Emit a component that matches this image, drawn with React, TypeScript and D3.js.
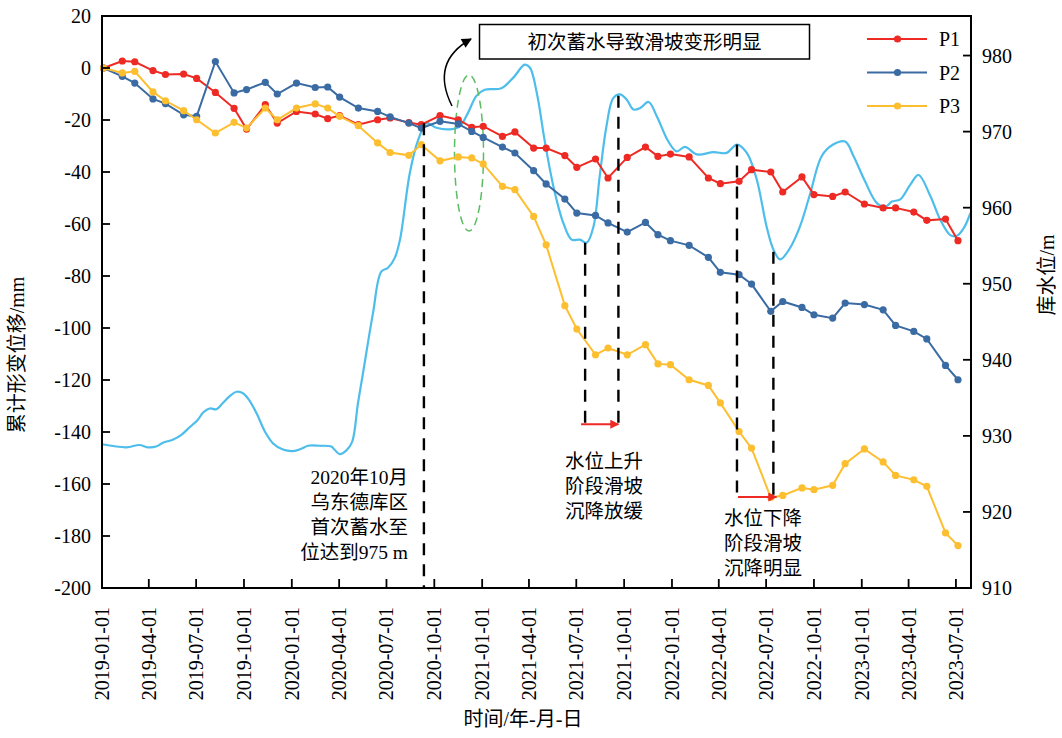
import React from 'react';
import * as d3 from 'd3';

// ---------- data ----------
const sampleDates = [
  "2019-01-04","2019-02-09","2019-03-05","2019-04-09","2019-05-03","2019-06-07","2019-07-02","2019-08-07","2019-09-12","2019-10-06","2019-11-11","2019-12-04",
  "2020-01-10","2020-02-15","2020-03-10","2020-04-02","2020-05-08","2020-06-14","2020-07-08","2020-08-13","2020-09-06","2020-10-12","2020-11-16","2020-12-12",
  "2021-01-03","2021-02-09","2021-03-05","2021-04-10","2021-05-04","2021-06-09","2021-07-02","2021-08-07","2021-08-31","2021-10-07","2021-11-11","2021-12-05","2021-12-29",
  "2022-02-03","2022-03-12","2022-04-04","2022-05-10","2022-06-03","2022-07-10","2022-08-02","2022-09-08","2022-10-01","2022-11-06","2022-11-30",
  "2023-01-06","2023-02-11","2023-03-07","2023-04-11","2023-05-06","2023-06-11","2023-07-05"
];

const p1 = [
  0, 2.7, 2.4, -1.0, -2.5, -2.3, -4.0, -9.4, -15.5, -23.5,
  -14.1, -21.2, -16.7, -17.7, -19.5, -18.3, -21.8, -19.9, -19.2, -21.0,
  -21.8, -18.3, -19.9, -22.8, -22.4, -26.3, -24.6, -30.8, -30.8, -33.7,
  -38.2, -35.0, -42.3, -34.4, -30.4, -34.0, -33.1, -34.2, -42.3, -44.5,
  -43.6, -39.1, -40.0, -47.7, -41.9, -48.7, -49.4, -47.7, -52.3, -53.8,
  -53.8, -55.4, -58.6, -58.1, -66.4
];

const p2 = [
  0, -3.2, -5.8, -11.9, -13.7, -18.0, -18.6, 2.5, -9.6, -8.3,
  -5.5, -10.0, -5.8, -7.5, -7.3, -11.2, -15.4, -16.7, -18.8, -21.2,
  -23.1, -20.5, -21.5, -24.4, -26.7, -30.4, -32.7, -39.5, -44.6, -50.4,
  -55.8, -56.7, -59.6, -63.1, -59.4, -64.1, -66.4, -68.2, -72.8, -78.6,
  -79.5, -83.1, -93.6, -89.8, -92.1, -94.9, -96.2, -90.4, -91.0, -93.0,
  -99.0, -101.3, -104.2, -114.4, -119.9
];

const p3 = [
  0, -1.9, -1.3, -9.2, -12.6, -16.4, -19.9, -25.0, -20.9, -23.1,
  -15.4, -19.9, -15.4, -13.8, -15.4, -18.6, -22.2, -28.8, -32.5, -33.6,
  -29.5, -35.7, -34.2, -34.6, -36.9, -45.5, -46.8, -57.1, -68.0, -91.4,
  -100.4, -110.3, -107.7, -110.3, -106.4, -113.8, -114.1, -119.9, -122.1, -128.8,
  -139.8, -146.2, -165.2, -164.4, -161.5, -162.2, -160.5, -152.2, -146.5, -151.5,
  -156.7, -158.4, -160.9, -178.8, -183.7
];

const waterDates = [
  "2019-01-01","2019-02-17","2019-03-14","2019-03-30","2019-04-15","2019-04-28","2019-05-17","2019-06-02","2019-06-18","2019-07-04",
  "2019-07-15","2019-07-27","2019-08-09","2019-08-21","2019-09-03","2019-09-17","2019-09-29","2019-10-10","2019-10-25","2019-11-10",
  "2019-11-26","2019-12-15","2020-01-03","2020-01-19","2020-02-01","2020-02-24","2020-03-17","2020-03-23","2020-04-02","2020-04-15",
  "2020-04-26","2020-05-07","2020-05-17","2020-06-05","2020-06-21","2020-07-04","2020-07-17","2020-07-27","2020-08-15","2020-08-31",
  "2020-09-16","2020-10-05","2020-10-31","2020-11-19","2020-12-05","2020-12-21","2021-01-06","2021-02-07","2021-03-02","2021-03-24",
  "2021-04-03","2021-04-16","2021-05-02","2021-05-18","2021-06-06","2021-06-22","2021-07-08","2021-07-21","2021-08-03","2021-08-15",
  "2021-08-28","2021-09-10","2021-09-23","2021-10-06","2021-10-19","2021-11-01","2021-11-17","2021-12-03","2021-12-25","2022-01-10",
  "2022-01-26","2022-02-18","2022-03-22","2022-04-16","2022-05-06","2022-05-25","2022-06-13","2022-07-02","2022-07-15","2022-07-28",
  "2022-08-16","2022-09-04","2022-09-24","2022-10-16","2022-11-07","2022-11-30","2022-12-16","2023-01-07","2023-01-30","2023-02-15",
  "2023-02-28","2023-03-16","2023-04-04","2023-04-20","2023-05-13","2023-06-01","2023-06-20","2023-07-03","2023-07-16","2023-07-29"
];

const waterLevels = [
  928.9, 928.5, 928.8, 928.5, 928.6, 929.1, 929.5, 930.1, 931.1, 932.1,
  933.1, 933.6, 933.5, 934.3, 935.2, 935.8, 935.6, 934.8, 933.0, 930.6,
  929.0, 928.2, 928.0, 928.3, 928.7, 928.7, 928.6, 928.2, 927.6, 928.1,
  929.2, 934.2, 938.3, 946.1, 951.6, 952.1, 953.4, 955.8, 964.6, 968.9,
  971.1, 970.5, 970.3, 970.7, 972.5, 974.7, 975.5, 975.7, 977.1, 978.8,
  978.4, 975.1, 968.5, 962.8, 958.0, 955.8, 955.8, 955.4, 957.5, 964.1,
  970.7, 974.4, 974.9, 974.2, 972.9, 973.1, 973.9, 972.0, 968.7, 967.4,
  968.0, 967.0, 967.3, 967.2, 968.3, 967.2, 963.7, 957.5, 954.5, 953.2,
  954.7, 957.5, 961.9, 966.8, 968.3, 968.7, 966.8, 963.5, 960.6, 960.1,
  960.8, 961.1, 963.0, 964.3, 961.5, 958.4, 956.4, 956.3, 957.3, 959.3
];

const xTickLabels = [
  "2019-01-01","2019-04-01","2019-07-01","2019-10-01","2020-01-01","2020-04-01","2020-07-01","2020-10-01",
  "2021-01-01","2021-04-01","2021-07-01","2021-10-01","2022-01-01","2022-04-01","2022-07-01","2022-10-01",
  "2023-01-01","2023-04-01","2023-07-01"
];
const yLeftTicks = [20, 0, -20, -40, -60, -80, -100, -120, -140, -160, -180, -200];
const yRightTicks = [910, 920, 930, 940, 950, 960, 970, 980];

const seriesNames = ["P1", "P2", "P3"];
const seriesColors = ["#EE2A24", "#3A6BA3", "#FDBE2F"];
const waterColor = "#4DBDEB";

// event marker lines: date, top water level (right axis), bottom displacement (left axis)
const eventDates = ["2020-09-11", "2021-07-18", "2021-09-20", "2022-05-06", "2022-07-15"];
const eventTops = [971.1, 955.4, 974.7, 968.3, 954.2];
const eventBottoms = [-200, -137, -137, -165, -165];

const SERIF = '"Liberation Serif", "Noto Sans CJK SC", serif';

export default function App() {
  const parse = d3.timeParse('%Y-%m-%d');
  const L = 102, R = 971, T = 16, B = 588;
  const x = d3.scaleTime().domain([parse('2019-01-01') as Date, parse('2023-07-30') as Date]).range([L, R]);
  const yL = d3.scaleLinear().domain([-200, 20]).range([B, T]);
  const yR = d3.scaleLinear().domain([910, 985.2]).range([B, T]);

  const dates = sampleDates.map(d => parse(d) as Date);
  const series = [p1, p2, p3];

  const line = d3.line<[Date, number]>().x(d => x(d[0])).y(d => yL(d[1]));
  const wline = d3.line<[Date, number]>().x(d => x(d[0])).y(d => yR(d[1])).curve(d3.curveCatmullRom.alpha(0.5));
  const wdata: [Date, number][] = waterDates.map((d, i) => [parse(d) as Date, waterLevels[i]]);

  const ev = eventDates.map((d, i) => ({ x: x(parse(d) as Date), y1: yR(eventTops[i]), y2: yL(eventBottoms[i]) }));

  const fs = 20;
  const ts = { fontFamily: SERIF };

  return (
    <svg width={1062} height={738} style={{ position: 'absolute', left: 0, top: 0, background: '#fff', fontFamily: SERIF }}>
      <defs>
        <marker id="arrB" viewBox="0 0 10 10" refX="9" refY="5" markerWidth="12" markerHeight="10" markerUnits="userSpaceOnUse" orient="auto">
          <path d="M0,0 L10,5 L0,10 z" fill="#000" />
        </marker>
        <marker id="arrR" viewBox="0 0 10 10" refX="9" refY="5" markerWidth="14" markerHeight="9" markerUnits="userSpaceOnUse" orient="auto">
          <path d="M0,0 L10,5 L0,10 z" fill="#EE2A24" />
        </marker>
      </defs>
      <rect x={0} y={0} width={1062} height={738} fill="#fff" />

      {/* water level */}
      <path d={wline(wdata) || ''} fill="none" stroke={waterColor} strokeWidth={2.2} />

      {/* green dashed ellipse */}
      <ellipse cx={469} cy={153} rx={14.5} ry={78} fill="none" stroke="#5DBB63" strokeWidth={1.5} strokeDasharray="8 5" />

      {/* series */}
      {series.map((vals, si) => {
        const pts: [Date, number][] = dates.map((d, i) => [d, vals[i]]);
        return (
          <g key={si}>
            <path d={line(pts) || ''} fill="none" stroke={seriesColors[si]} strokeWidth={2} />
            {pts.map((p, i) => (
              <circle key={i} cx={x(p[0])} cy={yL(p[1])} r={3.6} fill={seriesColors[si]} />
            ))}
          </g>
        );
      })}

      {/* event dashed lines */}
      {ev.map((e, i) => (
        <line key={i} x1={e.x} x2={e.x} y1={e.y1} y2={e.y2} stroke="#000" strokeWidth={2.4} strokeDasharray="12 9" />
      ))}
      {/* red arrows */}
      <line x1={ev[1].x - 4} x2={ev[2].x} y1={ev[1].y2} y2={ev[1].y2} stroke="#EE2A24" strokeWidth={2} markerEnd="url(#arrR)" />
      <line x1={ev[3].x + 1} x2={ev[4].x + 3} y1={ev[3].y2} y2={ev[3].y2} stroke="#EE2A24" strokeWidth={2} markerEnd="url(#arrR)" />

      {/* frame */}
      <rect x={L} y={T} width={R - L} height={B - T} fill="none" stroke="#000" strokeWidth={2} />

      {/* left ticks */}
      {yLeftTicks.map(t => (
        <g key={'l' + t}>
          <line x1={L} x2={L + 8} y1={yL(t)} y2={yL(t)} stroke="#000" strokeWidth={1.8} />
          <text x={91} y={yL(t)} textAnchor="end" dominantBaseline="central" fontSize={fs} style={ts}>{t}</text>
        </g>
      ))}
      {/* right ticks */}
      {yRightTicks.map(t => (
        <g key={'r' + t}>
          <line x1={R - 8} x2={R} y1={yR(t)} y2={yR(t)} stroke="#000" strokeWidth={1.8} />
          <text x={982} y={yR(t)} textAnchor="start" dominantBaseline="central" fontSize={fs} style={ts}>{t}</text>
        </g>
      ))}
      {/* bottom ticks */}
      {xTickLabels.map(t => {
        const xx = x(parse(t) as Date);
        return (
          <g key={t}>
            <line x1={xx} x2={xx} y1={B} y2={B - 9} stroke="#000" strokeWidth={1.8} />
            <text transform={`translate(${xx},607) rotate(-90)`} textAnchor="end" dominantBaseline="central" fontSize={fs} style={ts}>{t}</text>
          </g>
        );
      })}

      {/* axis titles */}
      <text transform="translate(17,355) rotate(-90)" textAnchor="middle" dominantBaseline="central" fontSize={fs} style={ts}>累计形变位移/mm</text>
      <text transform="translate(1047,275) rotate(-90)" textAnchor="middle" dominantBaseline="central" fontSize={fs} style={ts}>库水位/m</text>
      <text x={523} y={719} textAnchor="middle" dominantBaseline="central" fontSize={fs} style={ts}>时间/年-月-日</text>

      {/* legend */}
      {seriesNames.map((n, i) => {
        const ly = 39 + i * 33.5;
        return (
          <g key={n}>
            <line x1={867} x2={927} y1={ly} y2={ly} stroke={seriesColors[i]} strokeWidth={2} />
            <circle cx={897.5} cy={ly} r={3.6} fill={seriesColors[i]} />
            <text x={939} y={ly} dominantBaseline="central" fontSize={fs} style={ts}>{n}</text>
          </g>
        );
      })}

      {/* annotation box */}
      <rect x={479.5} y={24.5} width={330} height={34.5} fill="#fff" stroke="#000" strokeWidth={1.5} />
      <text x={644.5} y={42} textAnchor="middle" dominantBaseline="central" fontSize={19.5} style={ts}>初次蓄水导致滑坡变形明显</text>
      <path d="M452,106 Q430,62 471,39" fill="none" stroke="#000" strokeWidth={1.5} markerEnd="url(#arrB)" />

      {/* text annotations */}
      {["2020年10月", "乌东德库区", "首次蓄水至", "位达到975 m"].map((s, i) => (
        <text key={s} x={408} y={477 + i * 25.2} textAnchor="end" dominantBaseline="central" fontSize={19.5} style={ts}>{s}</text>
      ))}
      {["水位上升", "阶段滑坡", "沉降放缓"].map((s, i) => (
        <text key={s} x={604} y={461 + i * 25.2} textAnchor="middle" dominantBaseline="central" fontSize={19.5} style={ts}>{s}</text>
      ))}
      {["水位下降", "阶段滑坡", "沉降明显"].map((s, i) => (
        <text key={s + i} x={763} y={518 + i * 25.2} textAnchor="middle" dominantBaseline="central" fontSize={19.5} style={ts}>{s}</text>
      ))}
    </svg>
  );
}
